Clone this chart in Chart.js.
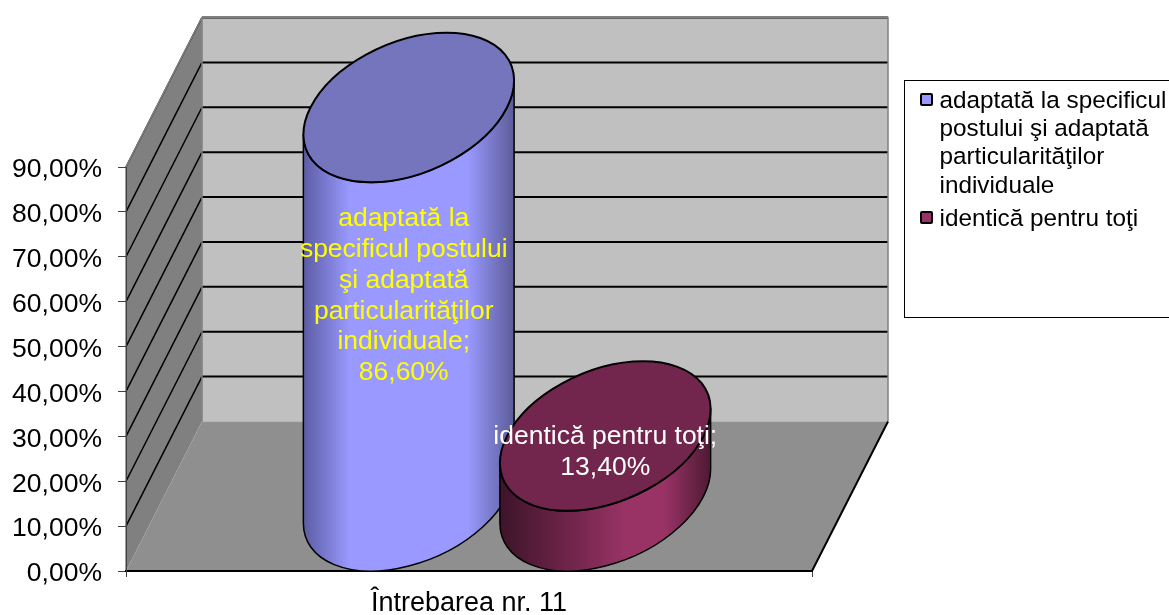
<!DOCTYPE html>
<html lang="ro">

<head>
    <meta charset="UTF-8">
    <title>Întrebarea nr. 11</title>
    <style>
        html, body {
            margin: 0;
            padding: 0;
            background: #ffffff;
            overflow: hidden;
        }

        #wrap {
            position: relative;
            width: 1169px;
            height: 615px;
        }

        canvas {
            display: block;
        }

        #legend {
            position: absolute;
            left: 904px;
            top: 80px;
            width: 275px;
            height: 236px;
            border: 1px solid #000000;
            font-family: "Liberation Sans", Arial, sans-serif;
            font-size: 24.3px;
            line-height: 28.2px;
            color: #000000;
        }

        .item {
            position: absolute;
            left: 34.5px;
            white-space: nowrap;
        }

        .swatch {
            position: absolute;
            left: -19.5px;
            top: 7px;
            width: 9px;
            height: 9px;
            border: 2px solid #000000;
            border-radius: 2px;
        }
    </style>
</head>

<body>
    <div id="wrap">
        <canvas id="chart" width="1169" height="615"></canvas>
        <div id="legend"></div>
    </div>

    <script src="https://cdn.jsdelivr.net/npm/chart.js"></script>
    <script>
        // Data
        const categories = ["Întrebarea nr. 11"];
        const yTickLabels = ["0,00%", "10,00%", "20,00%", "30,00%", "40,00%", "50,00%", "60,00%", "70,00%", "80,00%", "90,00%"];
        const seriesNames = [
            ["adaptată la specificul", "postului şi adaptată", "particularităţilor", "individuale"],
            ["identică pentru toţi"],
        ];
        const labelLines = [
            ["adaptată la", "specificul postului", "şi adaptată", "particularităţilor", "individuale;", "86,60%"],
            ["identică pentru toţi;", "13,40%"],
        ];
        const adaptedValues = [0.866];
        const identicalValues = [0.134];

        // Look of the 3D box and cylinders
        const depth = { x: 76, y: -149.5 };
        const FONT = '"Liberation Sans", Arial, sans-serif';
        const looks = [
            { swatch: "#9999ff", top: "#7575bd", text: "#ffff00", labelDx: -5, labelDy: -6,
              side: [[0, "#5c5ca3"], [0.22, "#9999ff"], [0.78, "#9999ff"], [1, "#5c5c99"]] },
            { swatch: "#993366", top: "#73264d", text: "#ffffff", labelDx: 0, labelDy: -14,
              side: [[0, "#3d1429"], [0.6, "#993366"], [0.78, "#993366"], [1, "#4d1a33"]] },
        ];

        // Walls and floor go behind the axes
        const boxPlugin = {
            id: "box",
            beforeDraw(chart) {
                const { ctx, chartArea: a, scales } = chart;
                const dx = depth.x, dy = depth.y;

                ctx.save();
                ctx.fillStyle = "#c0c0c0";
                ctx.fillRect(a.left + dx, a.top + dy, a.width, a.height);

                ctx.fillStyle = "#808080";
                ctx.beginPath();
                ctx.moveTo(a.left, a.top);
                ctx.lineTo(a.left + dx, a.top + dy);
                ctx.lineTo(a.left + dx, a.bottom + dy);
                ctx.lineTo(a.left, a.bottom);
                ctx.closePath();
                ctx.fill();

                ctx.fillStyle = "#8f8f8f";
                ctx.beginPath();
                ctx.moveTo(a.left, a.bottom);
                ctx.lineTo(a.right, a.bottom);
                ctx.lineTo(a.right + dx, a.bottom + dy);
                ctx.lineTo(a.left + dx, a.bottom + dy);
                ctx.closePath();
                ctx.fill();

                // grid lines, skipping the floor level
                scales.y.ticks.forEach((tick) => {
                    const y = scales.y.getPixelForValue(tick.value);
                    if (tick.value === 0) return;
                    ctx.strokeStyle = "#000000";
                    ctx.lineWidth = 1.5;
                    ctx.beginPath();
                    ctx.moveTo(a.left, y);
                    ctx.lineTo(a.left + dx, y + dy);
                    ctx.stroke();
                    ctx.lineWidth = 2;
                    ctx.beginPath();
                    ctx.moveTo(a.left + dx, y + dy);
                    ctx.lineTo(a.right + dx, y + dy);
                    ctx.stroke();
                });

                ctx.strokeStyle = "#808080";
                ctx.lineWidth = 1.5;
                ctx.beginPath();
                ctx.moveTo(a.left, a.bottom);
                ctx.lineTo(a.left, a.top);
                ctx.lineTo(a.left + dx, a.top + dy);
                ctx.lineTo(a.right + dx, a.top + dy);
                ctx.lineTo(a.right + dx, a.bottom + dy);
                ctx.moveTo(a.left + dx, a.top + dy);
                ctx.lineTo(a.left + dx, a.bottom + dy);
                ctx.stroke();

                ctx.strokeStyle = "#000000";
                ctx.lineWidth = 2;
                ctx.beginPath();
                ctx.moveTo(a.left, a.bottom);
                ctx.lineTo(a.right, a.bottom);
                ctx.lineTo(a.right + dx, a.bottom + dy);
                ctx.stroke();
                ctx.restore();
            },
            // tick labels sit a little under their tick marks in the original
            afterDraw(chart) {
                const { ctx, scales } = chart;
                ctx.save();
                ctx.font = "26.5px " + FONT;
                ctx.fillStyle = "#000000";
                ctx.textAlign = "right";
                ctx.textBaseline = "middle";
                scales.y.ticks.forEach((tick) => {
                    ctx.fillText(tick.label, 102, scales.y.getPixelForValue(tick.value) + 3);
                });
                ctx.restore();
            },
        };

        function unitArc(ctx, cx, cy, ux, vx, vy, from, to, ccw) {
            ctx.save();
            ctx.transform(ux, 0, vx, vy, cx, cy);
            ctx.arc(0, 0, 1, from, to, ccw);
            ctx.restore();
        }

        // Each bar element is redrawn as a cylinder standing on the floor
        const cylinderPlugin = {
            id: "cylinder",
            afterDatasetsDraw(chart) {
                const { ctx, scales } = chart;
                const base = scales.y.getPixelForValue(0);

                chart.data.datasets.forEach((ds, i) => {
                    const bar = chart.getDatasetMeta(i).data[0];
                    const look = looks[i];
                    const ux = bar.width / 2, vx = depth.x / 2, vy = depth.y / 2;
                    const cx = bar.x + vx;
                    const topY = bar.y + vy, baseY = base + vy;
                    const t0 = Math.atan2(vx, ux);
                    const half = Math.hypot(ux, vx);

                    const grad = ctx.createLinearGradient(cx - half, 0, cx + half, 0);
                    look.side.forEach(([stop, colour]) => grad.addColorStop(stop, colour));

                    ctx.save();
                    ctx.strokeStyle = "#000000";
                    ctx.lineJoin = "round";

                    ctx.beginPath();
                    unitArc(ctx, cx, baseY, ux, vx, vy, t0, t0 - Math.PI, true);
                    unitArc(ctx, cx, topY, ux, vx, vy, t0 - Math.PI, t0, false);
                    ctx.closePath();
                    ctx.fillStyle = grad;
                    ctx.fill();
                    ctx.lineWidth = 1.5;
                    ctx.stroke();

                    ctx.beginPath();
                    unitArc(ctx, cx, topY, ux, vx, vy, 0, Math.PI * 2, false);
                    ctx.closePath();
                    ctx.fillStyle = look.top;
                    ctx.fill();
                    ctx.lineWidth = 2;
                    ctx.stroke();
                    ctx.restore();
                });

                // data labels on top of both cylinders
                chart.data.datasets.forEach((ds, i) => {
                    const bar = chart.getDatasetMeta(i).data[0];
                    const look = looks[i];
                    const lines = labelLines[i];
                    const midY = scales.y.getPixelForValue(ds.data[0] / 2) + depth.y / 2 + look.labelDy;
                    const lineH = 30.8;

                    ctx.save();
                    ctx.font = "26.5px " + FONT;
                    ctx.fillStyle = look.text;
                    ctx.textAlign = "center";
                    ctx.textBaseline = "middle";
                    lines.forEach((line, k) => {
                        ctx.fillText(line, bar.x + depth.x / 2 + look.labelDx, midY + (k - (lines.length - 1) / 2) * lineH);
                    });
                    ctx.restore();
                });
            },
        };

        new Chart(document.getElementById("chart"), {
            type: "bar",
            data: {
                labels: categories,
                datasets: [
                    { label: seriesNames[0].join(" "), data: adaptedValues, backgroundColor: "transparent" },
                    { label: seriesNames[1].join(" "), data: identicalValues, backgroundColor: "transparent" },
                ],
            },
            options: {
                responsive: false,
                animation: false,
                categoryPercentage: 0.573,
                barPercentage: 1,
                layout: { padding: { left: 0, top: 167, right: 357, bottom: 0 } },
                plugins: { legend: { display: false }, tooltip: { enabled: false } },
                scales: {
                    x: {
                        afterFit(scale) { scale.height = 44; },
                        border: { color: "#000000", width: 2 },
                        grid: { drawOnChartArea: false, color: "#404040", tickLength: 6, offset: true },
                        ticks: { color: "#000000", font: { family: FONT, size: 27 }, padding: 10, maxRotation: 0 },
                    },
                    y: {
                        min: 0,
                        max: 0.9,
                        afterFit(scale) { scale.width = 126; },
                        border: { color: "#404040", width: 1 },
                        grid: { drawOnChartArea: false, color: "#404040", tickLength: 8 },
                        ticks: {
                            display: false,
                            stepSize: 0.1,
                            callback: (value, index) => yTickLabels[index],
                        },
                    },
                },
            },
            plugins: [boxPlugin, cylinderPlugin],
        });

        // Legend box
        const legend = document.getElementById("legend");
        let row = 0;
        seriesNames.forEach((lines, i) => {
            const item = document.createElement("div");
            item.className = "item";
            item.style.top = (5 + row * 28.2 + (i ? 5 : 0)) + "px";
            const swatch = document.createElement("span");
            swatch.className = "swatch";
            swatch.style.background = looks[i].swatch;
            item.appendChild(swatch);
            lines.forEach((line, k) => {
                if (k) item.appendChild(document.createElement("br"));
                item.appendChild(document.createTextNode(line));
            });
            legend.appendChild(item);
            row += lines.length;
        });
    </script>
</body>

</html>
